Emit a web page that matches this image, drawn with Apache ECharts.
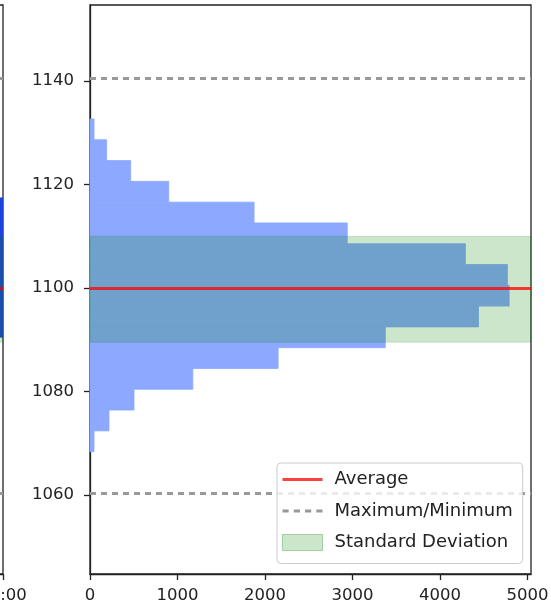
<!DOCTYPE html>
<html>
<head>
<meta charset="utf-8">
<script src="https://cdn.jsdelivr.net/npm/echarts@6/dist/echarts.min.js"></script>
<style>
  html, body { margin: 0; padding: 0; background: #ffffff; }
  #chart { width: 551px; height: 610px; }
</style>
</head>
<body>
<div id="chart"></div>
<script>
// ---- data ----
const yTickValues = [1060, 1080, 1100, 1120, 1140];
const xTickValues = [0, 1000, 2000, 3000, 4000, 5000];
const yRange = [1044.7, 1154.7];
const xRange = [0, 5040];

// histogram bin edges (value axis) and counts per bin, bottom to top
const binEdges = [1068.35, 1072.37, 1076.39, 1080.41, 1084.43, 1088.45, 1092.47, 1096.49,
                  1100.51, 1104.53, 1108.55, 1112.57, 1116.59, 1120.61, 1124.63, 1128.65, 1132.67];
const binCounts = [46, 217, 503, 1175, 2150, 3375, 4440, 4790,
                   4770, 4290, 2940, 1875, 900, 465, 190, 46];

const averageValue = 1100;
const maxMinValues = [1140.6, 1060.4];
const stdBand = [1089.5, 1110.0];

// neighbouring (cut-off) time-series panel on the left
const leftTimeTicks = [0, 6, 12, 18, 24];
const leftTimeRange = [0, 24];
const leftTraceSpan = [23.75, 24];
const leftTraceValues = [1090.4, 1117.5];

const legendNames = ['Average', 'Maximum/Minimum', 'Standard Deviation'];

// ---- styles ----
const FONT = 'DejaVu Sans';
const INK = '#222222';
const BAR_COLOR = '#8ca8ff';
const BAND_COLOR = 'rgba(0,128,0,0.2)';
const AVG_COLOR = 'rgba(255,0,0,0.75)';
const MM_COLOR = '#999999';
const SOLID_ICON = 'path://M0,0h40v3h-40z';
const DOTTED_ICON = 'path://M0,0h6v3h-6z M11,0h6v3h-6z M22,0h6v3h-6z M33,0h6v3h-6z';

const histData = binCounts.map((c, i) => [binEdges[i], binEdges[i + 1], c]);

function histItem(params, api) {
  const lo = api.value(0), hi = api.value(1), c = api.value(2);
  const p0 = api.coord([0, hi]);
  const p1 = api.coord([c, lo]);
  return {
    type: 'rect',
    shape: { x: p0[0], y: p0[1], width: p1[0] - p0[0], height: p1[1] - p0[1] },
    style: { fill: BAR_COLOR, stroke: BAR_COLOR, lineWidth: 0.8 }
  };
}
function bandItem(params, api) {
  const lo = api.value(0), hi = api.value(1);
  const cs = params.coordSys;
  const yTop = api.coord([0, hi])[1];
  const yBot = api.coord([0, lo])[1];
  return {
    type: 'rect',
    shape: { x: cs.x, y: yTop, width: cs.width, height: yBot - yTop },
    style: { fill: BAND_COLOR, stroke: 'rgba(0,128,0,0.15)', lineWidth: 1 }
  };
}
function traceItem(params, api) {
  const x0 = api.value(0), x1 = api.value(1), lo = api.value(2), hi = api.value(3);
  const p0 = api.coord([x0, hi]);
  const p1 = api.coord([x1, lo]);
  return {
    type: 'rect',
    shape: { x: p0[0], y: p0[1], width: p1[0] - p0[0], height: p1[1] - p0[1] },
    style: { fill: '#1f42e0' }
  };
}

const axisLineStyle = { color: INK, width: 1.3 };
const labelStyle = { fontFamily: FONT, fontSize: 16.5, color: INK };
const plainNum = v => String(v);

function markLines(values, color, type) {
  return {
    symbol: ['none', 'none'],
    silent: true,
    label: { show: false },
    emphasis: { disabled: true },
    lineStyle: { color: color, width: 3, type: type },
    data: values.map(v => ({ yAxis: v }))
  };
}

const option = {
  animation: false,
  backgroundColor: '#ffffff',
  grid: [
    { left: 90, right: 20, top: 5, bottom: 36, show: true, borderColor: INK, borderWidth: 1.3,
      outerBoundsMode: 'none', containLabel: false },
    { left: -300, right: 548, top: 5, bottom: 36, show: true, borderColor: INK, borderWidth: 1.3,
      outerBoundsMode: 'none', containLabel: false }
  ],
  xAxis: [
    {
      gridIndex: 0, type: 'value', min: xRange[0], max: xRange[1],
      splitLine: { show: false },
      axisLine: { show: true, lineStyle: axisLineStyle },
      axisTick: { show: true, length: 6, lineStyle: axisLineStyle, customValues: xTickValues },
      axisLabel: Object.assign({ margin: 13, customValues: xTickValues, formatter: plainNum }, labelStyle)
    },
    {
      gridIndex: 1, type: 'value', min: leftTimeRange[0], max: leftTimeRange[1],
      splitLine: { show: false },
      axisLine: { show: true, lineStyle: axisLineStyle },
      axisTick: { show: true, length: 6, lineStyle: axisLineStyle, customValues: leftTimeTicks },
      axisLabel: Object.assign({ margin: 13, customValues: leftTimeTicks,
        formatter: v => String(v).padStart(2, '0') + ':00' }, labelStyle)
    }
  ],
  yAxis: [
    {
      gridIndex: 0, type: 'value', min: yRange[0], max: yRange[1],
      splitLine: { show: false },
      axisLine: { show: true, lineStyle: axisLineStyle },
      axisTick: { show: true, length: 6, lineStyle: axisLineStyle, customValues: yTickValues },
      axisLabel: Object.assign({ margin: 16, customValues: yTickValues, formatter: plainNum }, labelStyle)
    },
    {
      gridIndex: 1, type: 'value', min: yRange[0], max: yRange[1],
      splitLine: { show: false },
      axisLine: { show: true, lineStyle: axisLineStyle },
      axisTick: { show: false },
      axisLabel: { show: false }
    }
  ],
  legend: {
    data: [
      { name: legendNames[0], icon: SOLID_ICON, itemStyle: { color: AVG_COLOR, borderWidth: 0 } },
      { name: legendNames[1], icon: DOTTED_ICON, itemStyle: { color: MM_COLOR, borderWidth: 0 } },
      { name: legendNames[2], icon: 'rect',
        itemStyle: { color: BAND_COLOR, borderColor: 'rgba(0,128,0,0.3)', borderWidth: 1 } }
    ],
    orient: 'vertical',
    left: 277,
    top: 463,
    z: 20,
    itemWidth: 40,
    itemHeight: 16,
    itemGap: 13.5,
    padding: [7.5, 10, 12, 5],
    backgroundColor: 'rgba(255,255,255,0.8)',
    borderColor: '#cccccc',
    borderWidth: 1,
    borderRadius: 4,
    selectedMode: false,
    textStyle: { fontFamily: FONT, fontSize: 18, color: INK, lineHeight: 18, padding: [0, 0, 0, 7] }
  },
  series: [
    {
      name: 'histogram', type: 'custom', xAxisIndex: 0, yAxisIndex: 0, z: 1,
      renderItem: histItem, encode: { x: 2, y: [0, 1] }, data: histData, silent: true
    },
    {
      name: legendNames[2], type: 'custom', xAxisIndex: 0, yAxisIndex: 0, z: 2,
      itemStyle: { color: BAND_COLOR },
      renderItem: bandItem, encode: { y: [0, 1] }, data: [stdBand], silent: true
    },
    {
      name: legendNames[0], type: 'line', xAxisIndex: 0, yAxisIndex: 0, z: 3,
      symbol: 'none', showSymbol: false, data: [],
      itemStyle: { color: AVG_COLOR },
      lineStyle: { color: AVG_COLOR, width: 3 },
      markLine: markLines([averageValue], AVG_COLOR, 'solid')
    },
    {
      name: legendNames[1], type: 'line', xAxisIndex: 0, yAxisIndex: 0, z: 3,
      symbol: 'none', showSymbol: false, data: [],
      itemStyle: { color: MM_COLOR },
      lineStyle: { color: MM_COLOR, width: 3, type: [6, 5] },
      markLine: markLines(maxMinValues, MM_COLOR, [6, 5])
    },
    // left (cut-off) panel
    {
      name: 'left-trace', type: 'custom', xAxisIndex: 1, yAxisIndex: 1, z: 1,
      renderItem: traceItem, encode: { x: [0, 1], y: [2, 3] },
      data: [[leftTraceSpan[0], leftTraceSpan[1], leftTraceValues[0], leftTraceValues[1]]], silent: true
    },
    {
      name: 'left-band', type: 'custom', xAxisIndex: 1, yAxisIndex: 1, z: 2,
      renderItem: bandItem, encode: { y: [0, 1] }, data: [stdBand], silent: true
    },
    {
      name: 'left-avg', type: 'line', xAxisIndex: 1, yAxisIndex: 1, z: 3,
      symbol: 'none', data: [],
      markLine: markLines([averageValue], AVG_COLOR, 'solid')
    },
    {
      name: 'left-maxmin', type: 'line', xAxisIndex: 1, yAxisIndex: 1, z: 3,
      symbol: 'none', data: [],
      markLine: markLines(maxMinValues, MM_COLOR, [6, 5])
    }
  ]
};

const chart = echarts.init(document.getElementById('chart'), null, { renderer: 'canvas' });
chart.setOption(option);
</script>
</body>
</html>
